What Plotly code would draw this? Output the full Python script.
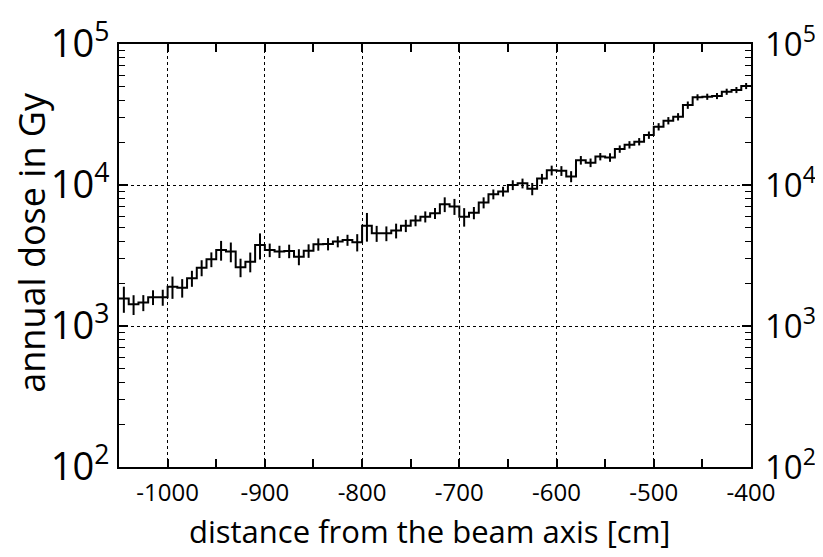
import plotly.graph_objects as go

bin_width = 10
bin_centers = [-1045, -1035, -1025, -1015, -1005, -995, -985, -975, -965, -955,
               -945, -935, -925, -915, -905, -895, -885, -875, -865, -855,
               -845, -835, -825, -815, -805, -795, -785, -775, -765, -755,
               -745, -735, -725, -715, -705, -695, -685, -675, -665, -655,
               -645, -635, -625, -615, -605, -595, -585, -575, -565, -555,
               -545, -535, -525, -515, -505, -495, -485, -475, -465, -455,
               -445, -435, -425, -415, -405]
dose = [1570, 1425, 1465, 1600, 1600, 1900, 1870, 2180, 2590, 2970,
        3460, 3370, 2610, 2860, 3750, 3460, 3370, 3400, 3100, 3420,
        3800, 3820, 3970, 4070, 3930, 5150, 4540, 4540, 4750, 5150,
        5600, 5960, 6300, 7300, 7050, 5960, 6350, 7500, 8600, 9000,
        10000, 10280, 9400, 11100, 12700, 12600, 11500, 15000, 14400, 15900,
        15700, 18000, 19300, 20300, 22600, 25900, 28600, 30500, 36900, 41900,
        42300, 42800, 45900, 47200, 50400]
rel_err = [0.21, 0.16, 0.13, 0.12, 0.13, 0.18, 0.15, 0.13, 0.13, 0.12,
           0.16, 0.16, 0.15, 0.16, 0.21, 0.11, 0.10, 0.11, 0.13, 0.11,
           0.10, 0.10, 0.09, 0.09, 0.14, 0.23, 0.13, 0.12, 0.12, 0.10,
           0.09, 0.09, 0.09, 0.12, 0.13, 0.15, 0.10, 0.09, 0.08, 0.08,
           0.08, 0.08, 0.10, 0.08, 0.08, 0.08, 0.09, 0.07, 0.07, 0.06,
           0.07, 0.06, 0.06, 0.06, 0.06, 0.06, 0.06, 0.06, 0.06, 0.05,
           0.05, 0.05, 0.05, 0.05, 0.05]

x_ticks = [-1000, -900, -800, -700, -600, -500, -400]
y_tickvals = [100, 1000, 10000, 100000]
y_ticktext = ["10<sup>2</sup>", "10<sup>3</sup>", "10<sup>4</sup>", "10<sup>5</sup>"]
x_title = "distance from the beam axis [cm]"
y_title = "annual dose in Gy"

# step histogram outline built from bin edges
edges = [c - bin_width / 2 for c in bin_centers] + [bin_centers[-1] + bin_width / 2]
step_y = dose + [dose[-1]]
err_abs = [d * r for d, r in zip(dose, rel_err)]

FONT = "Open Sans, Liberation Sans, sans-serif"

fig = go.Figure()
fig.add_trace(go.Scatter(x=edges, y=step_y, mode="lines", line=dict(color="black", width=2, shape="hv"),
                         showlegend=False, hoverinfo="skip"))
fig.add_trace(go.Scatter(x=bin_centers, y=dose, mode="markers", marker=dict(size=1, color="black"),
                         error_y=dict(type="data", array=err_abs, visible=True, color="black",
                                      thickness=2, width=0),
                         showlegend=False))
fig.add_trace(go.Scatter(x=bin_centers, y=dose, mode="markers", marker=dict(size=0, opacity=0),
                         yaxis="y2", showlegend=False, hoverinfo="skip"))

fig.update_layout(
    width=815, height=549,
    margin=dict(l=111, r=72, t=36, b=90),
    paper_bgcolor="white", plot_bgcolor="white",
    font=dict(family=FONT, color="black"),
    xaxis=dict(range=[-1050, -400], tickvals=x_ticks, ticktext=[str(v) for v in x_ticks],
               automargin=False,
               showline=True, linecolor="black", linewidth=2, mirror="allticks",
               ticks="inside", ticklen=8, tickwidth=1.5, tickcolor="black",
               minor=dict(dtick=50, tick0=-1050, ticks="inside", ticklen=6, tickcolor="black", tickwidth=1.5),
               showgrid=True, gridcolor="black", griddash="dot", gridwidth=1,
               tickfont=dict(size=24), zeroline=False, ticklabelstandoff=3),
    yaxis=dict(type="log", range=[2, 5], tickvals=y_tickvals, ticktext=y_ticktext,
               automargin=False,
               showline=True, linecolor="black", linewidth=2, mirror="allticks",
               ticks="inside", ticklen=9, tickwidth=1.5, tickcolor="black",
               minor=dict(ticks="inside", ticklen=6, tickcolor="black", tickwidth=1.2, dtick="D1"),
               showgrid=True, gridcolor="black", griddash="dot", gridwidth=1,
               tickfont=dict(size=38), zeroline=False, ticklabelstandoff=0),
    yaxis2=dict(type="log", range=[2, 5], overlaying="y", side="right", automargin=False,
                tickvals=y_tickvals, ticktext=y_ticktext, ticks="", showgrid=False,
                showline=False, tickfont=dict(size=33), zeroline=False, ticklabelstandoff=13),
    annotations=[
        dict(text=x_title, xref="paper", yref="paper", x=0.492, y=-0.152, xanchor="center",
             yanchor="middle", showarrow=False, font=dict(size=31)),
        dict(text=y_title, xref="paper", yref="paper", x=-0.138, y=0.532, xanchor="center",
             yanchor="middle", showarrow=False, textangle=-90, font=dict(size=36)),
    ],
)

fig.write_html("out.html")
